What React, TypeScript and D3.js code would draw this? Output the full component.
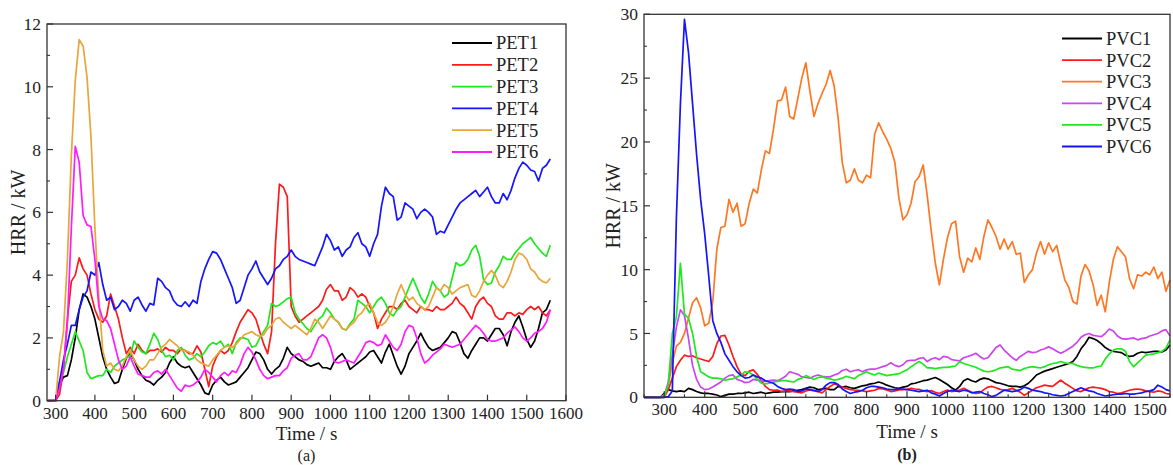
import React from 'react';
import * as d3 from 'd3';

// ---------- DATA ----------
// Left panel (a): time grid 280..1560 s, step 10
const TIME_A = d3.range(280, 1561, 10);
const PET_NAMES = ['PET1', 'PET2', 'PET3', 'PET4', 'PET5', 'PET6'];
const PET1 = [0, 0,
  0, 0.5, 0.75, 0.8, 1.3, 2.0, 2.9, 3.4, 3.3, 3.0,
  2.6, 2.0, 1.4, 1.0, 0.75, 0.55, 0.6, 1.0, 1.35, 1.5,
  1.3, 1.0, 0.8, 0.65, 0.6, 0.5, 0.65, 0.75, 0.9, 1.2,
  1.4, 1.2, 1.1, 1.05, 1.1, 0.9, 0.7, 0.5, 0.25, 0.2,
  0.5, 0.65, 0.75, 0.6, 0.5, 0.55, 0.6, 0.75, 0.9, 1.05,
  1.3, 1.55, 1.5, 1.3, 1.0, 0.85, 1.0, 1.1, 1.35, 1.7,
  1.5, 1.4, 1.3, 1.25, 1.15, 1.1, 1.15, 1.2, 1.05, 1.05,
  1.0, 1.25, 1.4, 1.5, 1.3, 1.0, 1.1, 1.2, 1.3, 1.4,
  1.55, 1.6, 1.4, 1.2, 1.55, 1.8, 1.45, 1.1, 0.85, 1.1,
  1.5, 1.7, 1.9, 2.15, 1.9, 1.7, 1.6, 1.65, 1.7, 1.85,
  2.0, 2.2, 2.15, 1.85, 1.5, 1.35, 1.6, 1.8, 2.0, 2.0,
  1.9, 2.1, 2.3, 2.3, 2.1, 1.75, 2.2, 2.5, 2.7, 2.35,
  1.95, 1.7, 1.9, 2.3, 2.8, 2.9, 3.2];
const PET2 = [0, 0,
  0, 0.2, 1.0, 2.6, 3.8, 4.0, 4.55, 4.2, 4.0, 3.4,
  2.9, 2.6, 2.5, 2.7, 3.4, 3.0, 2.6, 2.0, 1.5, 1.7,
  1.5, 1.8, 1.6, 1.5, 1.6, 1.6, 1.65, 1.55, 1.7, 1.6,
  1.6, 1.5, 1.65, 1.6, 1.5, 1.5, 1.75, 1.55, 1.0, 0.45,
  1.1, 1.4, 1.6, 1.5, 1.6, 1.85, 2.2, 2.5, 2.7, 2.9,
  2.8, 2.6, 2.2, 1.8, 1.5, 2.2, 5.0, 6.9, 6.8, 6.5,
  3.0, 2.7, 2.5, 2.6, 2.7, 2.8, 2.9, 3.0, 3.2, 3.55,
  3.7, 3.5, 3.5, 3.2, 3.3, 3.6, 3.5, 3.3, 3.4, 3.3,
  3.0, 2.8, 2.3, 2.6, 2.8, 3.0, 3.0, 2.9, 3.1, 3.2,
  3.0, 2.9, 2.8, 3.0, 2.9, 2.9, 2.85, 3.0, 2.9, 2.9,
  3.0, 3.1, 3.3, 3.1, 3.0, 2.8, 2.6, 3.0, 3.2, 3.3,
  3.1, 3.0, 2.7, 2.6, 2.6, 2.8, 2.8, 2.7, 2.8, 2.75,
  2.9, 3.0, 2.9, 3.0, 2.8, 2.7, 2.9];
const PET3 = [0, 0,
  0, 0.65, 0.9, 1.4, 1.8, 2.2, 1.9, 1.6, 0.9, 0.7,
  0.75, 0.8, 0.8, 1.0, 0.9, 1.1, 1.2, 1.3, 1.35, 1.45,
  1.9, 1.7, 1.55, 1.5, 1.8, 2.15, 1.95, 1.6, 1.4, 1.45,
  1.3, 1.6, 1.7, 1.45, 1.3, 1.35, 1.5, 1.4, 1.55, 1.75,
  1.85, 1.8, 1.9, 1.7, 1.8, 1.5, 1.85, 2.0, 2.0, 1.95,
  1.7, 1.75, 2.0, 2.2, 2.4, 3.1, 3.0, 3.05, 3.15, 3.25,
  3.3, 2.8, 2.6, 2.45, 2.3, 2.2, 2.4, 2.6, 2.7, 2.95,
  2.8, 2.6, 2.5, 2.3, 2.25, 2.45, 2.6, 3.2, 3.1, 3.0,
  2.8, 3.0, 3.2, 3.3, 3.1, 2.8, 2.7, 2.9, 3.0, 3.3,
  3.6, 3.9, 3.6, 3.3, 3.1, 3.4, 3.8, 3.6, 3.5, 3.3,
  3.4, 3.9, 4.4, 4.3, 4.35, 4.5, 4.8, 4.95, 4.6, 3.85,
  3.7, 3.75, 4.1, 4.3, 4.6, 4.5, 4.5, 4.7, 4.85, 5.0,
  5.1, 5.2, 5.0, 4.85, 4.7, 4.6, 4.95];
const PET4 = [0, 0,
  0, 0.6, 1.3, 1.8, 2.4, 2.4, 2.9, 3.3, 3.5, 4.1,
  4.0, 4.4, 3.7, 3.2, 3.3, 2.9, 3.0, 3.2, 3.1, 2.85,
  3.2, 3.3, 3.05, 2.85, 3.1, 3.05, 3.9, 3.8, 3.6, 3.5,
  3.2, 3.05, 3.0, 3.15, 3.0, 3.2, 3.1, 3.8, 4.2, 4.5,
  4.75, 4.7, 4.5, 4.2, 3.9, 3.6, 3.1, 3.2, 3.6, 4.0,
  4.2, 4.45, 4.1, 3.9, 3.7, 3.9, 4.2, 4.3, 4.5, 4.6,
  4.8, 4.6, 4.5, 4.45, 4.4, 4.35, 4.3, 4.6, 4.9, 5.3,
  5.1, 4.8, 4.9, 4.6, 4.8, 4.9, 5.2, 5.35, 5.0, 4.9,
  4.6, 5.0, 5.3, 6.2, 6.8, 6.6, 6.5, 5.75, 5.85, 6.3,
  6.2, 6.1, 5.8, 6.0, 6.1, 6.0, 5.85, 5.3, 5.4, 5.35,
  5.6, 5.85, 6.1, 6.3, 6.4, 6.5, 6.6, 6.7, 6.5, 6.65,
  6.8, 6.5, 6.3, 6.3, 6.6, 6.4, 6.7, 7.1, 7.4, 7.6,
  7.5, 7.35, 7.3, 7.0, 7.4, 7.5, 7.7];
const PET5 = [0, 0,
  0, 1.4, 2.2, 4.5, 7.8, 10.2, 11.5, 11.3, 10.3, 8.4,
  5.5, 3.3, 1.6, 1.1, 1.2, 1.0, 0.95, 1.1, 1.4, 1.6,
  1.3, 1.1, 1.0, 1.1, 1.3, 1.3, 1.5, 1.7, 1.8, 1.95,
  1.85, 1.75, 1.6, 1.6, 1.55, 1.45, 1.3, 1.2, 1.15, 1.1,
  1.3, 1.45, 1.6, 1.7, 1.75, 1.7, 1.8, 1.95, 2.1, 2.15,
  2.2, 2.1, 2.05, 2.1, 2.3, 2.4, 2.6, 2.65, 2.5, 2.4,
  2.3, 2.4, 2.3, 2.2, 2.1, 2.3, 2.6, 2.5, 2.3, 2.5,
  2.7, 2.6, 2.5, 2.3, 2.25, 2.4, 2.5, 2.7, 2.8, 3.0,
  3.1, 2.8, 2.5, 2.4, 2.5, 2.7, 3.0, 3.4, 3.7, 3.4,
  3.2, 3.3, 3.1, 3.0, 2.9, 3.0, 3.3, 3.6, 3.5, 3.7,
  3.6, 3.4, 3.5, 3.6, 3.65, 3.7, 3.35, 3.3, 3.5, 3.8,
  4.0, 4.15, 4.0, 3.7, 3.6, 3.8, 4.1, 4.5, 4.7, 4.65,
  4.5, 4.2, 4.1, 3.9, 3.8, 3.75, 3.9];
const PET6 = [0, 0,
  0, 0.4, 1.0, 2.5, 5.5, 8.1, 7.6, 5.9, 5.6, 5.55,
  4.5, 3.0, 2.6, 2.55, 2.3, 1.8, 1.3, 1.0, 1.1, 1.4,
  1.1, 0.85, 0.8, 0.75, 0.75, 0.9, 0.95, 0.85, 1.0, 0.8,
  0.6, 0.4, 0.3, 0.5, 0.45, 0.5, 0.6, 0.75, 1.0, 0.9,
  0.75, 0.6, 0.8, 0.9, 0.8, 0.95, 0.9, 1.15, 1.5, 1.7,
  1.55, 1.3, 1.0, 0.8, 0.7, 0.75, 0.8, 0.8, 0.95, 1.05,
  1.35, 1.45, 1.5, 1.3, 1.3, 1.4, 1.7, 2.0, 2.1, 2.0,
  1.7, 1.25, 1.2, 1.25, 1.3, 1.25, 1.2, 1.4, 1.6, 1.85,
  1.9, 1.85, 1.75, 1.8, 2.1, 1.9, 1.7, 1.6, 1.8, 2.2,
  2.4, 2.35, 2.0, 1.5, 1.2, 1.3, 1.45, 1.55, 1.65, 1.8,
  1.75, 1.7, 1.75, 1.8, 1.95, 2.1, 2.25, 2.4, 2.3, 2.15,
  1.95, 1.9, 1.9, 1.95, 2.0, 2.15, 2.25, 2.35, 2.2, 2.0,
  1.9, 2.0, 2.15, 2.2, 2.3, 2.5, 2.9];

// Right panel (b): time grid 250..1550 s, step 10
const TIME_B = d3.range(250, 1551, 10);
const PVC_NAMES = ['PVC1', 'PVC2', 'PVC3', 'PVC4', 'PVC5', 'PVC6'];
const PVC1 = [0, 0, 0, 0, 0,
  0.3, 0.6, 0.5, 0.45, 0.5, 0.45, 0.7, 0.6, 0.45, 0.35,
  0.3, 0.3, 0.25, 0.18, 0.05, 0.15, 0.25, 0.25, 0.3, 0.3,
  0.35, 0.4, 0.3, 0.35, 0.4, 0.3, 0.35, 0.4, 0.4, 0.45,
  0.45, 0.45, 0.5, 0.55, 0.6, 0.7, 0.8, 0.75, 0.6, 0.65,
  0.7, 0.6, 0.6, 0.85, 0.8, 0.85, 0.75, 0.7, 0.8, 0.9,
  0.95, 1.05, 1.1, 1.2, 1.1, 0.95, 0.85, 0.75, 0.7, 0.8,
  0.85, 1.05, 1.1, 1.2, 1.3, 1.35, 1.45, 1.55, 1.4, 1.2,
  1.0, 0.75, 0.57, 0.85, 1.3, 1.45, 1.3, 1.2, 1.4, 1.5,
  1.45, 1.3, 1.15, 1.1, 1.0, 0.9, 0.85, 0.85, 0.8, 0.9,
  1.1, 1.4, 1.75, 1.9, 2.05, 2.15, 2.25, 2.35, 2.45, 2.55,
  2.65, 2.8, 3.2, 3.8, 4.2, 4.7, 4.6, 4.45, 4.2, 3.9,
  3.7, 3.6, 3.55, 3.5, 3.3, 3.2, 3.25, 3.45, 3.55, 3.5,
  3.55, 3.6, 3.6, 3.55, 3.7, 4.1];
const PVC2 = [0, 0, 0, 0, 0,
  0, 0.6, 1.5, 2.4, 2.9, 3.3, 3.2, 3.25, 3.1, 3.0,
  2.9, 2.8, 3.2, 4.2, 4.8, 4.85, 4.1, 3.2, 2.4, 1.8,
  1.7, 2.05, 2.15, 1.8, 1.3, 0.85, 0.6, 0.55, 0.57, 0.45,
  0.5, 0.5, 0.45, 0.4, 0.35, 0.5, 0.57, 0.5, 0.45, 0.35,
  0.6, 0.85, 1.05, 0.95, 0.8, 0.7, 0.6, 0.57, 0.55, 0.5,
  0.45, 0.5, 0.55, 0.7, 0.65, 0.57, 0.45, 0.5, 0.57, 0.6,
  0.62, 0.7, 0.65, 0.62, 0.5, 0.45, 0.52, 0.4, 0.3, 0.45,
  0.57, 0.45, 0.5, 0.57, 0.7, 0.55, 0.4, 0.3, 0.35, 0.6,
  0.8, 0.85, 0.75, 0.62, 0.57, 0.6, 0.7, 0.55, 0.4, 0.15,
  0.35, 0.55, 0.75, 0.85, 0.95, 0.9, 0.85, 1.1, 1.35, 1.1,
  0.9, 0.7, 0.5, 0.45, 0.6, 0.75, 0.8, 0.75, 0.7, 0.6,
  0.45, 0.4, 0.3, 0.35, 0.45, 0.55, 0.62, 0.65, 0.6, 0.5,
  0.45, 0.4, 0.5, 0.45, 0.3, 0.25];
const PVC3 = [0, 0, 0, 0, 0,
  0.2, 1.0, 2.7, 4.0, 4.3, 5.0, 6.2, 7.4, 7.8, 7.0,
  5.6, 5.8, 7.5, 11.6, 13.3, 13.4, 15.5, 14.5, 15.2, 13.4,
  13.6, 15.2, 16.3, 16.0, 17.8, 19.3, 19.1, 21.0, 23.2, 23.3,
  24.3, 22.0, 21.8, 23.4, 25.0, 26.2, 24.0, 22.0, 23.0, 23.8,
  24.5, 25.6, 24.4, 21.8, 18.4, 16.8, 17.0, 17.9, 17.0, 16.8,
  17.4, 17.2, 20.6, 21.5, 20.8, 20.2, 19.5, 18.4, 15.6, 13.9,
  14.3, 15.2, 16.9, 17.3, 18.2, 15.8, 13.0, 10.5, 8.8, 10.8,
  12.5, 13.6, 13.8, 11.0, 9.8, 10.9, 10.6, 11.7, 10.8, 12.6,
  13.9, 13.3, 12.6, 11.6, 12.4, 11.6, 12.2, 11.2, 11.3, 9.0,
  9.6, 10.0, 11.3, 12.2, 11.2, 12.1, 11.4, 11.9, 10.5, 9.2,
  8.6, 7.5, 7.3, 9.5, 10.4, 9.9, 8.8, 7.2, 8.0, 6.7,
  9.0, 10.8, 11.8, 11.4, 11.0, 9.3, 8.5, 9.6, 9.5, 9.8,
  9.6, 10.2, 9.3, 9.8, 8.3, 9.2];
const PVC4 = [0, 0, 0, 0, 0,
  0.1, 1.2, 3.3, 5.5, 6.85, 6.4, 4.6, 2.5, 1.4, 0.8,
  0.6, 0.65, 0.8, 1.0, 1.2, 1.5, 1.7, 1.75, 1.4, 1.3,
  1.15, 1.2, 1.4, 1.35, 1.3, 1.25, 1.3, 1.35, 1.3, 1.45,
  1.65, 2.0, 1.9, 1.8, 1.6, 1.55, 1.5, 1.65, 1.75, 1.65,
  1.6, 1.6, 1.75, 1.85, 2.1, 2.2, 2.0, 2.1, 2.15, 2.0,
  2.15, 2.2, 2.2, 2.3, 2.4, 2.5, 2.7, 2.5, 2.4, 2.55,
  2.85, 2.9, 2.9, 3.05, 3.1, 2.8, 3.0, 3.1, 2.95, 3.2,
  3.15, 2.95, 2.9, 2.85, 3.1, 3.2, 3.3, 3.45, 3.2, 3.0,
  3.1, 3.5, 3.9, 4.1, 3.7, 3.4, 3.1, 2.9, 3.2, 3.4,
  3.6, 3.5, 3.55, 3.7, 3.8, 3.95, 3.8, 3.6, 3.45, 3.6,
  3.8, 4.0, 4.3, 4.7, 4.9, 5.0, 4.85, 4.8, 4.75, 5.0,
  5.35, 5.2, 4.8, 4.6, 4.55, 4.6, 4.65, 4.5, 4.6, 4.65,
  4.8, 4.9, 5.0, 5.2, 5.3, 4.8];
const PVC5 = [0, 0, 0, 0, 0,
  0, 1.0, 5.0, 6.3, 10.5, 6.5, 6.2, 5.0, 3.2, 2.0,
  1.8, 1.6, 1.5, 1.5, 1.45, 1.35, 1.4, 1.45, 1.6, 1.75,
  2.0, 1.95, 1.75, 1.4, 1.1, 1.05, 1.1, 1.2, 1.25, 1.3,
  1.3, 1.25, 1.2, 1.4, 1.5, 1.7, 1.55, 1.4, 1.55, 1.6,
  1.5, 1.45, 1.35, 1.4, 1.5, 1.65, 1.55, 1.45, 1.7, 1.85,
  2.0, 1.85, 1.75, 1.9, 1.8, 1.7, 1.75, 1.8, 1.85, 2.0,
  2.15, 2.4, 2.6, 2.8, 2.6, 2.3, 2.3, 2.25, 2.3, 2.35,
  2.35, 2.4, 2.45, 2.8, 2.65, 2.55, 2.45, 2.35, 2.2, 2.05,
  2.0, 2.05, 2.15, 2.3, 2.35, 2.4, 2.2, 2.15, 2.1, 2.25,
  2.35, 2.4, 2.35, 2.3, 2.4, 2.55, 2.65, 2.7, 2.8, 2.7,
  2.65, 2.65, 2.5, 2.4, 2.35, 2.3, 2.3, 2.4, 2.45, 3.0,
  3.4, 3.7, 3.8, 3.8, 3.6, 2.8, 2.4, 2.7, 3.0, 3.3,
  3.35, 3.4, 3.5, 3.6, 3.85, 4.5];
const PVC6 = [0, 0, 0, 0, 0,
  0, 0.05, 0.5, 14.0, 23.0, 29.6, 27.0, 23.0, 19.0, 15.5,
  12.8, 9.5, 6.0, 5.0, 4.3, 3.4, 2.9, 2.4, 2.0, 1.7,
  1.5, 1.55, 1.75, 1.6, 1.5, 1.3, 1.2, 1.1, 0.85, 0.7,
  0.6, 0.65, 0.6, 0.45, 0.5, 0.65, 0.6, 0.55, 0.45, 0.6,
  0.95, 1.15, 1.15, 1.0, 0.65, 0.45, 0.3, 0.4, 0.45, 0.55,
  0.75, 0.85, 0.85, 0.8, 0.75, 0.65, 0.6, 0.6, 0.65, 0.65,
  0.6, 0.55, 0.5, 0.45, 0.5, 0.55, 0.35, 0.25, 0.1, 0.3,
  0.45, 0.55, 0.5, 0.45, 0.55, 0.5, 0.35, 0.4, 0.45, 0.3,
  0.2, 0.05, 0.15, 0.35, 0.55, 0.5, 0.45, 0.5, 0.6, 0.8,
  0.7, 0.55, 0.5, 0.45, 0.35, 0.3, 0.2, 0.15, 0.1, 0.15,
  0.3, 0.45, 0.6, 0.75, 0.6, 0.5, 0.45, 0.3, 0.2, 0.1,
  0.15, 0.2, 0.25, 0.25, 0.3, 0.25, 0.25, 0.3, 0.35, 0.45,
  0.5, 0.6, 0.95, 0.8, 0.6, 0.5];

const X_TICKS_A = d3.range(300, 1601, 100);
const Y_TICKS_A = d3.range(0, 13, 2);
const Y_MINOR_A = d3.range(1, 12, 2);
const X_TICKS_B = d3.range(300, 1501, 100);
const X_MINOR_B = d3.range(250, 1551, 100);
const Y_TICKS_B = d3.range(0, 31, 5);
const Y_MINOR_B = d3.range(2.5, 30, 5);

const PET_COLORS = ['#000000', '#ff1a1a', '#1ee81e', '#1414ff', '#e8a63a', '#ff1aff'];
const PVC_COLORS = ['#000000', '#ff1a1a', '#ff7722', '#cc44ee', '#1ee81e', '#1414ff'];

const FONT = 'Liberation Serif, DejaVu Serif, serif';

type PanelProps = {
  x0: number; x1: number; yb: number; yt: number;
  xDomain: [number, number]; yDomain: [number, number];
  times: number[]; series: number[][]; names: string[]; colors: string[];
  xTicks: number[]; xMinor: number[]; yTicks: number[]; yMinor: number[];
  legendX: number; legendY: number; legendStep: number;
  tickBaseline: number; titleBaseline: number; yTitleX: number;
  caption: string; captionBold: boolean; captionBaseline: number;
};

function Panel(p: PanelProps) {
  const x = d3.scaleLinear().domain(p.xDomain).range([p.x0, p.x1]);
  const y = d3.scaleLinear().domain(p.yDomain).range([p.yb, p.yt]);
  const line = d3.line<[number, number]>().x(d => x(d[0])).y(d => y(d[1]));
  const cx = (p.x0 + p.x1) / 2;
  const cy = (p.yb + p.yt) / 2;
  const axisColor = '#333';
  return (
    <g>
      {p.series.map((vals, i) => {
        const pts: [number, number][] = vals.map((v, k) => [p.times[k], v]);
        return <path key={i} d={line(pts) || ''} fill="none" stroke={p.colors[i]} strokeWidth={1.7} strokeLinejoin="round" />;
      })}
      <rect x={p.x0} y={p.yt} width={p.x1 - p.x0} height={p.yb - p.yt} fill="none" stroke={axisColor} strokeWidth={1.3} />
      {p.xTicks.map(t => (
        <g key={'xt' + t}>
          <line x1={x(t)} x2={x(t)} y1={p.yb} y2={p.yb - 6} stroke={axisColor} strokeWidth={1.2} />
          <text x={x(t)} y={p.tickBaseline} textAnchor="middle" fontFamily={FONT} fontSize={17} fill="#222">{t}</text>
        </g>
      ))}
      {p.xMinor.map(t => (
        <line key={'xm' + t} x1={x(t)} x2={x(t)} y1={p.yb} y2={p.yb - 3} stroke={axisColor} strokeWidth={1.1} />
      ))}
      {p.yTicks.map(t => (
        <g key={'yt' + t}>
          <line x1={p.x0} x2={p.x0 + 6} y1={y(t)} y2={y(t)} stroke={axisColor} strokeWidth={1.2} />
          <text x={p.x0 - 6} y={y(t)} dy="0.35em" textAnchor="end" fontFamily={FONT} fontSize={17.5} fill="#222">{t}</text>
        </g>
      ))}
      {p.yMinor.map(t => (
        <line key={'ym' + t} x1={p.x0} x2={p.x0 + 3} y1={y(t)} y2={y(t)} stroke={axisColor} strokeWidth={1.1} />
      ))}
      <text x={cx} y={p.titleBaseline} textAnchor="middle" fontFamily={FONT} fontSize={19} fill="#222">Time / s</text>
      <text transform={`translate(${p.yTitleX},${cy}) rotate(-90)`} textAnchor="middle" dy="0.35em" fontFamily={FONT} fontSize={20} fill="#222">HRR / kW</text>
      <text x={cx} y={p.captionBaseline} textAnchor="middle" fontFamily={FONT} fontSize={16} fontWeight={p.captionBold ? 'bold' : 'normal'} fill="#222">{p.caption}</text>
      {p.names.map((n, i) => {
        const ly = p.legendY + i * p.legendStep;
        return (
          <g key={'lg' + n}>
            <line x1={p.legendX} x2={p.legendX + 40} y1={ly} y2={ly} stroke={p.colors[i]} strokeWidth={1.8} />
            <text x={p.legendX + 44} y={ly} dy="0.35em" fontFamily={FONT} fontSize={18.5} fill="#222">{n}</text>
          </g>
        );
      })}
    </g>
  );
}

export default function App() {
  return (
    <div style={{ position: 'absolute', left: 0, top: 0, width: 1173, height: 465, background: '#fff' }}>
      <svg width={1173} height={465} style={{ display: 'block' }}>
        <rect width={1173} height={465} fill="#fff" />
        <Panel
          x0={47} x1={566} yb={400.7} yt={24}
          xDomain={[278, 1600]} yDomain={[0, 12]}
          times={TIME_A} series={[PET1, PET2, PET3, PET4, PET5, PET6]} names={PET_NAMES} colors={PET_COLORS}
          xTicks={X_TICKS_A} xMinor={[]} yTicks={Y_TICKS_A} yMinor={Y_MINOR_A}
          legendX={452} legendY={43} legendStep={21.8}
          tickBaseline={419} titleBaseline={440} yTitleX={18}
          caption="(a)" captionBold={false} captionBaseline={461}
        />
        <Panel
          x0={644} x1={1170} yb={397.3} yt={14.3}
          xDomain={[250, 1550]} yDomain={[0, 30]}
          times={TIME_B} series={[PVC1, PVC2, PVC3, PVC4, PVC5, PVC6]} names={PVC_NAMES} colors={PVC_COLORS}
          xTicks={X_TICKS_B} xMinor={X_MINOR_B} yTicks={Y_TICKS_B} yMinor={Y_MINOR_B}
          legendX={1062} legendY={38.5} legendStep={21.6}
          tickBaseline={415} titleBaseline={438} yTitleX={613}
          caption="(b)" captionBold={true} captionBaseline={460}
        />
      </svg>
    </div>
  );
}
